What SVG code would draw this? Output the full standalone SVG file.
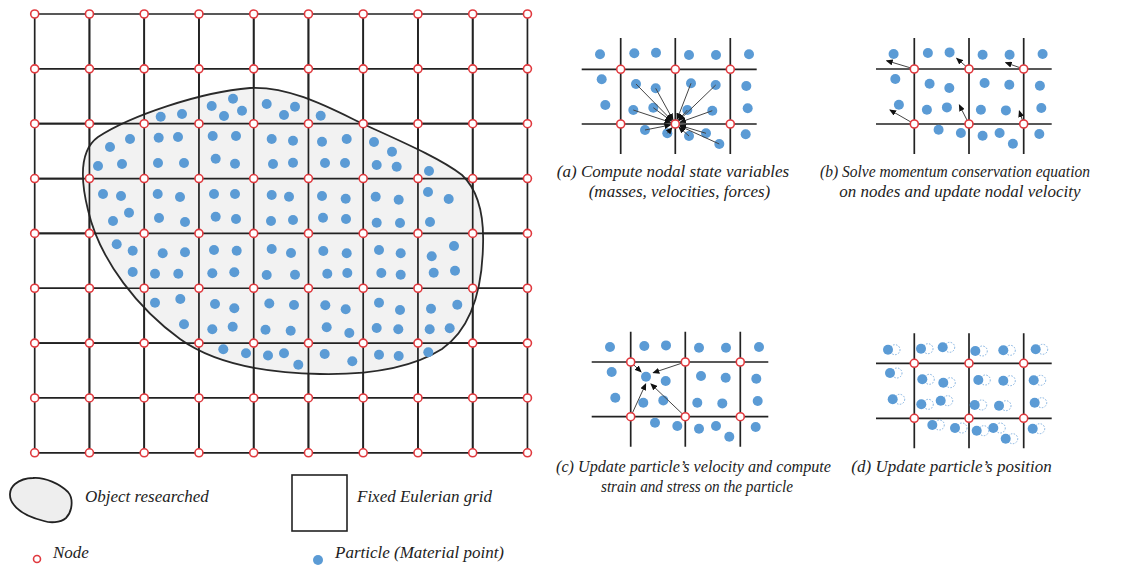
<svg xmlns="http://www.w3.org/2000/svg" xmlns:xlink="http://www.w3.org/1999/xlink" width="1125" height="570" viewBox="0 0 1125 570">
<style>
.grid{stroke:#222;stroke-width:1.7;fill:none}
.nd{fill:#fff;stroke:#e0393e;stroke-width:1.6}
.p{fill:#5b9bd5}
.pd{fill:none;stroke:#7fb0e0;stroke-width:1;stroke-dasharray:1.5 1.5}
.ar{stroke:#444;stroke-width:1;fill:none;marker-end:url(#ah)}
.t{font-family:"Liberation Serif","Times New Roman",serif;font-style:italic;font-size:17px;fill:#222}
</style>
<defs>
<marker id="ah" markerWidth="7" markerHeight="6" refX="6" refY="3" orient="auto" markerUnits="userSpaceOnUse">
<path d="M0,0 L7,3 L0,6 Z" fill="#111"/>
</marker>
<g id="pat">
<circle class="p" cx="600" cy="54.3" r="5"/><circle class="p" cx="634.3" cy="53.3" r="5"/><circle class="p" cx="656" cy="52.7" r="5"/><circle class="p" cx="689" cy="55" r="5"/><circle class="p" cx="716" cy="55" r="5"/><circle class="p" cx="749" cy="54.3" r="5"/>
<circle class="p" cx="601.7" cy="79.3" r="5"/><circle class="p" cx="636" cy="84" r="5"/><circle class="p" cx="655.7" cy="88.3" r="5"/><circle class="p" cx="691" cy="83.3" r="5"/><circle class="p" cx="715.7" cy="85" r="5"/><circle class="p" cx="746.3" cy="86" r="5"/>
<circle class="p" cx="605.3" cy="105" r="5"/><circle class="p" cx="633.3" cy="110" r="5"/><circle class="p" cx="653.3" cy="107.7" r="5"/><circle class="p" cx="687.3" cy="110" r="5"/><circle class="p" cx="712.3" cy="110.7" r="5"/><circle class="p" cx="747.7" cy="108.3" r="5"/>
<circle class="p" cx="645" cy="130" r="5"/><circle class="p" cx="667.3" cy="133.3" r="5"/><circle class="p" cx="689" cy="136" r="5"/><circle class="p" cx="706" cy="133.3" r="5"/><circle class="p" cx="719.3" cy="144" r="5"/><circle class="p" cx="745.7" cy="134.3" r="5"/>
</g>
<circle id="nd" class="nd" r="4"/>
</defs>

<g id="main-grid">
<path class="grid" d="M34.7,14V452.8M89.45,14V452.8M144.2,14V452.8M198.95,14V452.8M253.7,14V452.8M308.45,14V452.8M363.2,14V452.8M417.95,14V452.8M472.7,14V452.8M527.45,14V452.8M34.7,14H527.45M34.7,68.85H527.45M34.7,123.7H527.45M34.7,178.55H527.45M34.7,233.4H527.45M34.7,288.25H527.45M34.7,343.1H527.45M34.7,397.95H527.45M34.7,452.8H527.45"/>
</g>

<g id="object">
<path d="M250,88 C290,86 330,108 363,124 C400,141 440,158 462,175 C480,192 484,220 483,246 C482,290 472,328 442,349 C412,368 372,375 320,374 C262,373 212,362 180,339 C140,310 100,262 88,210 C80,178 80,150 98,137 C130,116 200,92 250,88 Z" fill="#f2f2f2" stroke="#2a2a2a" stroke-width="1.8"/>
</g>

<g id="main-grid-lines-over">
<path class="grid" d="M89.45,14V452.8M144.2,14V452.8M198.95,14V452.8M253.7,14V452.8M308.45,14V452.8M363.2,14V452.8M417.95,14V452.8M472.7,14V452.8M34.7,123.7H527.45M34.7,178.55H527.45M34.7,233.4H527.45M34.7,288.25H527.45M34.7,343.1H527.45"/>
</g>

<g id="particles">
<circle class="p" cx="160.7" cy="116.7" r="5"/><circle class="p" cx="182" cy="114" r="5"/><circle class="p" cx="211.7" cy="106" r="5"/><circle class="p" cx="233" cy="98.7" r="5"/><circle class="p" cx="224" cy="116" r="5"/><circle class="p" cx="242" cy="110.7" r="5"/><circle class="p" cx="266.7" cy="104" r="5"/><circle class="p" cx="284" cy="115" r="5"/><circle class="p" cx="295" cy="106.7" r="5"/><circle class="p" cx="320.7" cy="115.7" r="5"/>
<circle class="p" cx="130" cy="139" r="5"/><circle class="p" cx="110" cy="147" r="5"/><circle class="p" cx="158.7" cy="137.7" r="5"/><circle class="p" cx="178" cy="137" r="5"/><circle class="p" cx="212.7" cy="136" r="5"/><circle class="p" cx="236" cy="136" r="5"/><circle class="p" cx="271.7" cy="139" r="5"/><circle class="p" cx="293" cy="140.7" r="5"/><circle class="p" cx="322" cy="141.7" r="5"/><circle class="p" cx="346.7" cy="139" r="5"/><circle class="p" cx="374" cy="142" r="5"/><circle class="p" cx="392" cy="151.7" r="5"/>
<circle class="p" cx="98" cy="166" r="5"/><circle class="p" cx="122" cy="164" r="5"/><circle class="p" cx="158" cy="163" r="5"/><circle class="p" cx="184" cy="163" r="5"/><circle class="p" cx="215.7" cy="158.7" r="5"/><circle class="p" cx="235" cy="163.7" r="5"/><circle class="p" cx="273" cy="164" r="5"/><circle class="p" cx="293" cy="162.7" r="5"/><circle class="p" cx="325" cy="163" r="5"/><circle class="p" cx="345" cy="163" r="5"/><circle class="p" cx="376.7" cy="165" r="5"/><circle class="p" cx="396.7" cy="166.7" r="5"/><circle class="p" cx="429" cy="171" r="5"/>
<circle class="p" cx="103" cy="194" r="5"/><circle class="p" cx="121" cy="196" r="5"/><circle class="p" cx="157.7" cy="194" r="5"/><circle class="p" cx="180" cy="197" r="5"/><circle class="p" cx="214" cy="194" r="5"/><circle class="p" cx="235" cy="194" r="5"/><circle class="p" cx="271.7" cy="195" r="5"/><circle class="p" cx="289" cy="196.7" r="5"/><circle class="p" cx="322" cy="196" r="5"/><circle class="p" cx="345.7" cy="198.7" r="5"/><circle class="p" cx="375.7" cy="196.7" r="5"/><circle class="p" cx="398.7" cy="199.7" r="5"/><circle class="p" cx="428" cy="192" r="5"/><circle class="p" cx="448.7" cy="199" r="5"/>
<circle class="p" cx="129" cy="212.7" r="5"/><circle class="p" cx="113" cy="221" r="5"/><circle class="p" cx="159" cy="218" r="5"/><circle class="p" cx="185" cy="222" r="5"/><circle class="p" cx="215.7" cy="216.7" r="5"/><circle class="p" cx="236" cy="219" r="5"/><circle class="p" cx="271" cy="221" r="5"/><circle class="p" cx="293" cy="220" r="5"/><circle class="p" cx="323" cy="217.7" r="5"/><circle class="p" cx="346" cy="219" r="5"/><circle class="p" cx="376.7" cy="222.7" r="5"/><circle class="p" cx="400" cy="223" r="5"/><circle class="p" cx="430" cy="222" r="5"/>
<circle class="p" cx="116.7" cy="244.3" r="5"/><circle class="p" cx="132.7" cy="250.7" r="5"/><circle class="p" cx="162.7" cy="253.3" r="5"/><circle class="p" cx="185" cy="252.3" r="5"/><circle class="p" cx="214" cy="250" r="5"/><circle class="p" cx="236.7" cy="250.7" r="5"/><circle class="p" cx="271.7" cy="249" r="5"/><circle class="p" cx="291" cy="253" r="5"/><circle class="p" cx="323.3" cy="251" r="5"/><circle class="p" cx="346.7" cy="253.3" r="5"/><circle class="p" cx="379" cy="250" r="5"/><circle class="p" cx="400.7" cy="253.3" r="5"/><circle class="p" cx="431.7" cy="256.3" r="5"/><circle class="p" cx="454" cy="246" r="5"/>
<circle class="p" cx="132.7" cy="272" r="5"/><circle class="p" cx="155" cy="273.7" r="5"/><circle class="p" cx="178.3" cy="273.7" r="5"/><circle class="p" cx="212.3" cy="273.3" r="5"/><circle class="p" cx="234.3" cy="272.3" r="5"/><circle class="p" cx="266.7" cy="275" r="5"/><circle class="p" cx="295" cy="274.7" r="5"/><circle class="p" cx="327.3" cy="273.7" r="5"/><circle class="p" cx="347.3" cy="273" r="5"/><circle class="p" cx="381.3" cy="273" r="5"/><circle class="p" cx="400.7" cy="274.7" r="5"/><circle class="p" cx="433.7" cy="272.7" r="5"/><circle class="p" cx="455" cy="270.7" r="5"/>
<circle class="p" cx="155" cy="302.7" r="5"/><circle class="p" cx="180.3" cy="299" r="5"/><circle class="p" cx="215" cy="304" r="5"/><circle class="p" cx="234.3" cy="308.3" r="5"/><circle class="p" cx="269.3" cy="303.5" r="5"/><circle class="p" cx="294" cy="305" r="5"/><circle class="p" cx="325.3" cy="305.3" r="5"/><circle class="p" cx="345.7" cy="309.3" r="5"/><circle class="p" cx="379" cy="302.7" r="5"/><circle class="p" cx="400" cy="310" r="5"/><circle class="p" cx="431" cy="308.7" r="5"/><circle class="p" cx="457.3" cy="304.7" r="5"/>
<circle class="p" cx="184" cy="324.3" r="5"/><circle class="p" cx="212.3" cy="329.3" r="5"/><circle class="p" cx="232.7" cy="326.7" r="5"/><circle class="p" cx="265.5" cy="329.7" r="5"/><circle class="p" cx="290.7" cy="330.7" r="5"/><circle class="p" cx="326.7" cy="327.3" r="5"/><circle class="p" cx="349.3" cy="333" r="5"/><circle class="p" cx="376.7" cy="328" r="5"/><circle class="p" cx="398.3" cy="329.3" r="5"/><circle class="p" cx="429.7" cy="329.3" r="5"/><circle class="p" cx="449.7" cy="328.3" r="5"/>
<circle class="p" cx="223.3" cy="349.3" r="5"/><circle class="p" cx="246" cy="353.3" r="5"/><circle class="p" cx="268" cy="355.5" r="5"/><circle class="p" cx="284" cy="353.3" r="5"/><circle class="p" cx="298.3" cy="364.7" r="5"/><circle class="p" cx="324.7" cy="354" r="5"/><circle class="p" cx="352.3" cy="361.3" r="5"/><circle class="p" cx="379" cy="354.7" r="5"/><circle class="p" cx="398.7" cy="356" r="5"/><circle class="p" cx="428.3" cy="352.3" r="5"/>
</g>

<g id="main-nodes">
<use href="#nd" x="34.7" y="14"/><use href="#nd" x="89.45" y="14"/><use href="#nd" x="144.2" y="14"/><use href="#nd" x="198.95" y="14"/><use href="#nd" x="253.7" y="14"/><use href="#nd" x="308.45" y="14"/><use href="#nd" x="363.2" y="14"/><use href="#nd" x="417.95" y="14"/><use href="#nd" x="472.7" y="14"/><use href="#nd" x="527.45" y="14"/>
<use href="#nd" x="34.7" y="68.85"/><use href="#nd" x="89.45" y="68.85"/><use href="#nd" x="144.2" y="68.85"/><use href="#nd" x="198.95" y="68.85"/><use href="#nd" x="253.7" y="68.85"/><use href="#nd" x="308.45" y="68.85"/><use href="#nd" x="363.2" y="68.85"/><use href="#nd" x="417.95" y="68.85"/><use href="#nd" x="472.7" y="68.85"/><use href="#nd" x="527.45" y="68.85"/>
<use href="#nd" x="34.7" y="123.7"/><use href="#nd" x="89.45" y="123.7"/><use href="#nd" x="144.2" y="123.7"/><use href="#nd" x="198.95" y="123.7"/><use href="#nd" x="253.7" y="123.7"/><use href="#nd" x="308.45" y="123.7"/><use href="#nd" x="363.2" y="123.7"/><use href="#nd" x="417.95" y="123.7"/><use href="#nd" x="472.7" y="123.7"/><use href="#nd" x="527.45" y="123.7"/>
<use href="#nd" x="34.7" y="178.55"/><use href="#nd" x="89.45" y="178.55"/><use href="#nd" x="144.2" y="178.55"/><use href="#nd" x="198.95" y="178.55"/><use href="#nd" x="253.7" y="178.55"/><use href="#nd" x="308.45" y="178.55"/><use href="#nd" x="363.2" y="178.55"/><use href="#nd" x="417.95" y="178.55"/><use href="#nd" x="472.7" y="178.55"/><use href="#nd" x="527.45" y="178.55"/>
<use href="#nd" x="34.7" y="233.4"/><use href="#nd" x="89.45" y="233.4"/><use href="#nd" x="144.2" y="233.4"/><use href="#nd" x="198.95" y="233.4"/><use href="#nd" x="253.7" y="233.4"/><use href="#nd" x="308.45" y="233.4"/><use href="#nd" x="363.2" y="233.4"/><use href="#nd" x="417.95" y="233.4"/><use href="#nd" x="472.7" y="233.4"/><use href="#nd" x="527.45" y="233.4"/>
<use href="#nd" x="34.7" y="288.25"/><use href="#nd" x="89.45" y="288.25"/><use href="#nd" x="144.2" y="288.25"/><use href="#nd" x="198.95" y="288.25"/><use href="#nd" x="253.7" y="288.25"/><use href="#nd" x="308.45" y="288.25"/><use href="#nd" x="363.2" y="288.25"/><use href="#nd" x="417.95" y="288.25"/><use href="#nd" x="472.7" y="288.25"/><use href="#nd" x="527.45" y="288.25"/>
<use href="#nd" x="34.7" y="343.1"/><use href="#nd" x="89.45" y="343.1"/><use href="#nd" x="144.2" y="343.1"/><use href="#nd" x="198.95" y="343.1"/><use href="#nd" x="253.7" y="343.1"/><use href="#nd" x="308.45" y="343.1"/><use href="#nd" x="363.2" y="343.1"/><use href="#nd" x="417.95" y="343.1"/><use href="#nd" x="472.7" y="343.1"/><use href="#nd" x="527.45" y="343.1"/>
<use href="#nd" x="34.7" y="397.95"/><use href="#nd" x="89.45" y="397.95"/><use href="#nd" x="144.2" y="397.95"/><use href="#nd" x="198.95" y="397.95"/><use href="#nd" x="253.7" y="397.95"/><use href="#nd" x="308.45" y="397.95"/><use href="#nd" x="363.2" y="397.95"/><use href="#nd" x="417.95" y="397.95"/><use href="#nd" x="472.7" y="397.95"/><use href="#nd" x="527.45" y="397.95"/>
<use href="#nd" x="34.7" y="452.8"/><use href="#nd" x="89.45" y="452.8"/><use href="#nd" x="144.2" y="452.8"/><use href="#nd" x="198.95" y="452.8"/><use href="#nd" x="253.7" y="452.8"/><use href="#nd" x="308.45" y="452.8"/><use href="#nd" x="363.2" y="452.8"/><use href="#nd" x="417.95" y="452.8"/><use href="#nd" x="472.7" y="452.8"/><use href="#nd" x="527.45" y="452.8"/>
</g>

<g id="panel-a">
<path class="grid" d="M620.7,38V154M675.3,38V154M730.3,38V154M581.7,69.3H756.7M581.7,124H756.7"/>
<use href="#pat"/>
<g id="connectors-a">
<line class="ar" x1="636" y1="84" x2="671.8" y2="120.4"/>
<line class="ar" x1="655.7" y1="88.3" x2="672.9" y2="119.6"/>
<line class="ar" x1="691" y1="83.3" x2="677.1" y2="119.3"/>
<line class="ar" x1="715.7" y1="85" x2="678.9" y2="120.5"/>
<line class="ar" x1="633.3" y1="110" x2="670.6" y2="122.4"/>
<line class="ar" x1="653.3" y1="107.7" x2="671.3" y2="121"/>
<line class="ar" x1="687.3" y1="110" x2="678.5" y2="120.2"/>
<line class="ar" x1="712.3" y1="110.7" x2="680" y2="122.3"/>
<line class="ar" x1="645" y1="130" x2="670.4" y2="125"/>
<line class="ar" x1="667.3" y1="133.3" x2="672" y2="127.8"/>
<line class="ar" x1="689" y1="136" x2="679" y2="127.3"/>
<line class="ar" x1="706" y1="133.3" x2="680.1" y2="125.5"/>
<line class="ar" x1="719.3" y1="144" x2="679.9" y2="126.1"/>
</g>
<use href="#nd" x="620.7" y="69.3"/><use href="#nd" x="675.3" y="69.3"/><use href="#nd" x="730.3" y="69.3"/><use href="#nd" x="620.7" y="124"/><use href="#nd" x="675.3" y="124"/><use href="#nd" x="730.3" y="124"/>
<text class="t" x="673" y="177" text-anchor="middle">(a) Compute nodal state variables</text>
<text class="t" x="679.5" y="197" text-anchor="middle">(masses, velocities, forces)</text>
</g>

<g id="panel-b">
<path class="grid" d="M914.3,38V154M969,38V154M1023.7,38V154M876,69H1051.7M876,124H1051.7"/>
<use href="#pat" transform="translate(293.6,-0.3)"/>
<g id="connectors-b">
<line class="ar" x1="914.3" y1="69" x2="886.7" y2="60.7"/>
<line class="ar" x1="969" y1="69" x2="956.7" y2="58.3"/>
<line class="ar" x1="1023.7" y1="69" x2="1005.7" y2="62.7"/>
<line class="ar" x1="914.3" y1="124" x2="890" y2="110"/>
<line class="ar" x1="969" y1="124" x2="959.3" y2="105"/>
<line class="ar" x1="1023.7" y1="124" x2="1019.3" y2="111"/>
</g>
<use href="#nd" x="914.3" y="69"/><use href="#nd" x="969" y="69"/><use href="#nd" x="1023.7" y="69"/><use href="#nd" x="914.3" y="124"/><use href="#nd" x="969" y="124"/><use href="#nd" x="1023.7" y="124"/>
<text class="t" x="820" y="177" textLength="270" lengthAdjust="spacingAndGlyphs">(b) Solve momentum conservation equation</text>
<text class="t" x="960" y="197" text-anchor="middle">on nodes and update nodal velocity</text>
</g>

<g id="panel-c">
<path class="grid" d="M630.7,331.7V446.7M685.3,331.7V446.7M740.3,331.7V446.7M591.7,362H768.3M591.7,416.7H768.3"/>
<use href="#pat" transform="translate(10,292.7)"/>
<g id="connectors-c">
<line class="ar" x1="630.7" y1="362" x2="641" y2="371.7"/>
<line class="ar" x1="685.3" y1="362" x2="653.3" y2="372.7"/>
<line class="ar" x1="630.7" y1="416.7" x2="645.7" y2="384"/>
<line class="ar" x1="685.3" y1="416.7" x2="651" y2="384"/>
</g>
<use href="#nd" x="630.7" y="362"/><use href="#nd" x="685.3" y="362"/><use href="#nd" x="740.3" y="362"/><use href="#nd" x="630.7" y="416.7"/><use href="#nd" x="685.3" y="416.7"/><use href="#nd" x="740.3" y="416.7"/>
<text class="t" x="556" y="472" textLength="275" lengthAdjust="spacingAndGlyphs">(c) Update particle’s velocity and compute</text>
<text class="t" x="601" y="492" textLength="192" lengthAdjust="spacingAndGlyphs">strain and stress on the particle</text>
</g>

<g id="panel-d">
<path class="grid" d="M914.3,333.3V448.3M969,333.3V448.3M1023.7,333.3V448.3M876,363.3H1051.7M876,418.3H1051.7"/>
<g>
<circle class="pd" cx="895" cy="349.7" r="5"/><circle class="pd" cx="928" cy="348.7" r="5"/><circle class="pd" cx="949.7" cy="347.3" r="5"/><circle class="pd" cx="982.3" cy="351" r="5"/><circle class="pd" cx="1010.3" cy="350.3" r="5"/><circle class="pd" cx="1042.7" cy="349.3" r="5"/>
<circle class="pd" cx="897" cy="373" r="5"/><circle class="pd" cx="929.3" cy="379.3" r="5"/><circle class="pd" cx="950.3" cy="382.7" r="5"/><circle class="pd" cx="985.3" cy="380" r="5"/><circle class="pd" cx="1010.3" cy="380.7" r="5"/><circle class="pd" cx="1040.7" cy="380.3" r="5"/>
<circle class="pd" cx="899.7" cy="399.3" r="5"/><circle class="pd" cx="928.3" cy="404.3" r="5"/><circle class="pd" cx="947.7" cy="400.7" r="5"/><circle class="pd" cx="981.7" cy="405" r="5"/><circle class="pd" cx="1006" cy="405.7" r="5"/><circle class="pd" cx="1041.7" cy="402.7" r="5"/>
<circle class="pd" cx="939.3" cy="425" r="5"/><circle class="pd" cx="962" cy="428" r="5"/><circle class="pd" cx="983.7" cy="430.7" r="5"/><circle class="pd" cx="1000.3" cy="428" r="5"/><circle class="pd" cx="1012.7" cy="438.7" r="5"/><circle class="pd" cx="1039.7" cy="428.7" r="5"/>
<circle class="p" cx="888" cy="349.7" r="5"/><circle class="p" cx="921" cy="348.7" r="5"/><circle class="p" cx="942.7" cy="347.3" r="5"/><circle class="p" cx="975.3" cy="351" r="5"/><circle class="p" cx="1003.3" cy="350.3" r="5"/><circle class="p" cx="1035.7" cy="349.3" r="5"/>
<circle class="p" cx="890" cy="373" r="5"/><circle class="p" cx="922.3" cy="379.3" r="5"/><circle class="p" cx="943.3" cy="382.7" r="5"/><circle class="p" cx="978.3" cy="380" r="5"/><circle class="p" cx="1003.3" cy="380.7" r="5"/><circle class="p" cx="1033.7" cy="380.3" r="5"/>
<circle class="p" cx="892.7" cy="399.3" r="5"/><circle class="p" cx="921.3" cy="404.3" r="5"/><circle class="p" cx="940.7" cy="400.7" r="5"/><circle class="p" cx="974.7" cy="405" r="5"/><circle class="p" cx="999" cy="405.7" r="5"/><circle class="p" cx="1034.7" cy="402.7" r="5"/>
<circle class="p" cx="932.3" cy="425" r="5"/><circle class="p" cx="955" cy="428" r="5"/><circle class="p" cx="976.7" cy="430.7" r="5"/><circle class="p" cx="993.3" cy="428" r="5"/><circle class="p" cx="1005.7" cy="438.7" r="5"/><circle class="p" cx="1032.7" cy="428.7" r="5"/>
</g>
<use href="#nd" x="914.3" y="363.3"/><use href="#nd" x="969" y="363.3"/><use href="#nd" x="1023.7" y="363.3"/><use href="#nd" x="914.3" y="418.3"/><use href="#nd" x="969" y="418.3"/><use href="#nd" x="1023.7" y="418.3"/>
<text class="t" x="951.5" y="472" text-anchor="middle">(d) Update particle’s position</text>
</g>

<g id="legend">
<path d="M33,478 C45,477 60,484 68,492 C74,499 72,512 66,518 C60,523 50,523 44,521 C32,518 20,513 14,505 C8,498 9,489 15,484 C20,480 26,478 33,478 Z" fill="#eeeeee" stroke="#222" stroke-width="1.8"/>
<text class="t" x="85" y="502">Object researched</text>
<rect x="292" y="475" width="55" height="56" fill="#fff" stroke="#222" stroke-width="1.6"/>
<text class="t" x="357" y="502">Fixed Eulerian grid</text>
<circle class="nd" cx="37" cy="559" r="3.5"/>
<text class="t" x="53" y="558">Node</text>
<circle class="p" cx="318" cy="560" r="5"/>
<text class="t" x="335" y="558">Particle (Material point)</text>
</g>
</svg>
